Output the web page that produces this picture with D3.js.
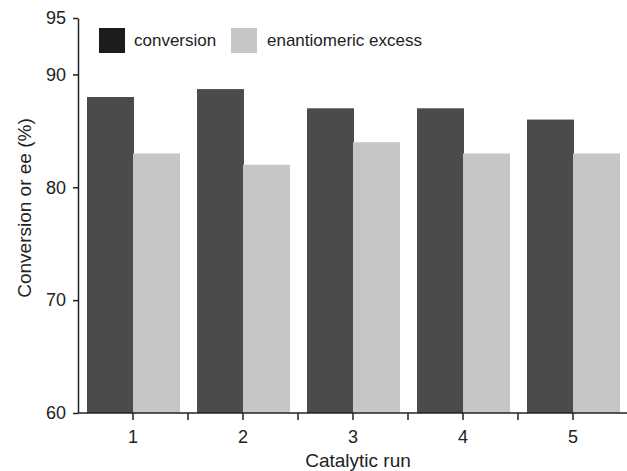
<!DOCTYPE html>
<html>
<head>
<meta charset="utf-8">
<script src="https://cdn.jsdelivr.net/npm/d3@7"></script>
<style>
  body { margin: 0; background: #fff; }
  svg { display: block; font-family: "Liberation Sans", Arial, sans-serif; }
  .axis text { font-size: 18px; fill: #222; }
  .axis path, .axis line { stroke: #222; stroke-width: 1.5; }
</style>
</head>
<body>
<svg id="chart"></svg>
<script>
const runs = ['1', '2', '3', '4', '5'];
const conversion = [88, 88.7, 87, 87, 86];
const ee = [83, 82, 84, 83, 83];
const yTicks = [60, 70, 80, 90, 95];
const seriesNames = ['conversion', 'enantiomeric excess'];

const width = 627, height = 471;
const margin = { top: 18, right: -1, bottom: 58, left: 78 };
const innerW = width - margin.left - margin.right;
const innerH = height - margin.top - margin.bottom;

const svg = d3.select('#chart').attr('width', width).attr('height', height);
const chart = svg.append('g').attr('transform', `translate(${margin.left},${margin.top})`);

const x = d3.scaleBand().domain(runs).range([0, innerW]).padding(0);
const y = d3.scaleLinear().domain([60, 95]).range([innerH, 0]);

const barW = 47;
// bars in each band: dark one ends at centre, light one starts at centre
const groups = chart.selectAll('.run')
    .data(runs)
    .join('g')
    .attr('class', 'run')
    .attr('transform', d => `translate(${x(d) + x.bandwidth() / 2},0)`);

groups.append('rect')
    .attr('x', -barW + 1)
    .attr('width', barW)
    .attr('y', (d, i) => y(conversion[i]))
    .attr('height', (d, i) => innerH - y(conversion[i]))
    .attr('fill', '#4b4b4a');

groups.append('rect')
    .attr('x', 0)
    .attr('width', barW)
    .attr('y', (d, i) => y(ee[i]))
    .attr('height', (d, i) => innerH - y(ee[i]))
    .attr('fill', '#c5c6c5');

// x axis: ticks at band centres and interior band boundaries
const xAxisG = chart.append('g')
    .attr('class', 'axis x-axis')
    .attr('transform', `translate(0,${innerH})`);

xAxisG.call(d3.axisBottom(x).tickSize(7).tickSizeOuter(0).tickPadding(10))
    .call(g => g.select('.domain').attr('d', `M0,0H${innerW}`));

xAxisG.selectAll('.sep')
    .data(runs.slice(1))
    .join('line')
    .attr('class', 'sep')
    .attr('x1', d => x(d)).attr('x2', d => x(d))
    .attr('y1', 0).attr('y2', 7);

const yAxisG = chart.append('g').attr('class', 'axis y-axis');
yAxisG.call(d3.axisLeft(y).tickValues(yTicks).tickSize(5).tickSizeOuter(0).tickPadding(7));

// axis titles
svg.append('text')
    .attr('x', 358)
    .attr('y', 467)
    .attr('text-anchor', 'middle')
    .attr('font-size', 19)
    .attr('fill', '#222')
    .text('Catalytic run');

svg.append('text')
    .attr('transform', 'translate(31,208) rotate(-90)')
    .attr('text-anchor', 'middle')
    .attr('font-size', 19)
    .attr('fill', '#222')
    .text('Conversion or ee (%)');

// legend
const legendX = [99, 231];
const legendColors = ['#1c1c1c', '#c5c6c5'];
const legend = svg.append('g').selectAll('g')
    .data(seriesNames)
    .join('g')
    .attr('transform', (d, i) => `translate(${legendX[i]},28)`);

legend.append('rect')
    .attr('width', 26).attr('height', 25)
    .attr('fill', (d, i) => legendColors[i]);

legend.append('text')
    .attr('x', (d, i) => i === 0 ? 35 : 36)
    .attr('y', 17.5)
    .attr('font-size', 17)
    .attr('fill', '#222')
    .text(d => d);
</script>
</body>
</html>
